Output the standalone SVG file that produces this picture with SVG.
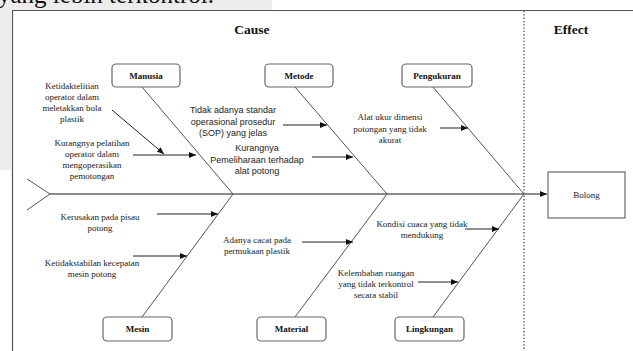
<svg xmlns="http://www.w3.org/2000/svg" width="633" height="351" viewBox="0 0 633 351">
<defs>
<marker id="ah" markerUnits="userSpaceOnUse" markerWidth="7" markerHeight="6" refX="7" refY="3" orient="auto">
<path d="M0,0 L7,3 L0,6 z" fill="#111"/>
</marker>
<style>
.serif{font-family:"Liberation Serif","Times New Roman",serif;font-size:9px;fill:#222;text-anchor:middle}
.sans{font-family:"Liberation Sans",Arial,sans-serif;font-size:9px;fill:#222;text-anchor:middle}
.lbl{font-family:"Liberation Serif","Times New Roman",serif;font-size:9px;font-weight:bold;fill:#111;text-anchor:middle}
.hdr{font-family:"Liberation Serif","Times New Roman",serif;font-size:13.5px;font-weight:bold;fill:#111;text-anchor:middle}
.box{fill:#fff;stroke:#666;stroke-width:1.2}
.bone{stroke:#555;stroke-width:1;fill:none}
.arr{stroke:#222;stroke-width:1;fill:none;marker-end:url(#ah)}
</style>
</defs>
<rect width="633" height="351" fill="#fff"/>
<rect x="0" y="0" width="272" height="10" fill="#ececec"/>
<rect x="0" y="0" width="11" height="170" fill="#ececec"/>
<text x="-2" y="3" font-family="'Liberation Serif','Times New Roman',serif" font-size="25" fill="#111">yang lebih terkontrol.</text>
<g id="frame">
<path d="M12.5,351 V10.5 H633" fill="none" stroke="#555" stroke-width="1.2"/>
<line x1="524" y1="11" x2="524" y2="351" stroke="#444" stroke-width="1.3" stroke-dasharray="1.3,2"/>
<text class="hdr" x="252" y="34">Cause</text>
<text class="hdr" x="571" y="34">Effect</text>
</g>
<g id="connectors">
<line x1="50" y1="194" x2="547" y2="194" stroke="#666" stroke-width="1.5" marker-end="url(#ah)"/>
<path class="bone" d="M27,179 L50,194 L27,210"/>
<line class="bone" x1="142" y1="87" x2="233" y2="194"/>
<line class="bone" x1="295" y1="87" x2="387" y2="194"/>
<line class="bone" x1="433" y1="87" x2="524" y2="194"/>
<line class="bone" x1="142" y1="317" x2="233" y2="194"/>
<line class="bone" x1="295" y1="317" x2="387" y2="194"/>
<line class="bone" x1="433" y1="317" x2="524" y2="194"/>
<line class="arr" x1="112" y1="110" x2="164" y2="154"/>
<line class="arr" x1="133" y1="155" x2="196" y2="155"/>
<line class="arr" x1="283" y1="125" x2="327" y2="125"/>
<line class="arr" x1="312" y1="157" x2="353" y2="157"/>
<line class="arr" x1="440" y1="128" x2="468" y2="128"/>
<line class="arr" x1="157" y1="214" x2="218" y2="214"/>
<line class="arr" x1="133" y1="256" x2="187" y2="256"/>
<line class="arr" x1="302" y1="242" x2="353" y2="242"/>
<line class="arr" x1="465" y1="229" x2="499" y2="229"/>
<line class="arr" x1="418" y1="282" x2="458" y2="282"/>
</g>
<g id="manusia"><rect class="box" x="112" y="64" width="68" height="23" rx="4"/><text class="lbl" x="146" y="79">Manusia</text></g>
<g id="metode"><rect class="box" x="265" y="64" width="68" height="23" rx="4"/><text class="lbl" x="299" y="79">Metode</text></g>
<g id="pengukuran"><rect class="box" x="402" y="64" width="70" height="23" rx="4"/><text class="lbl" x="437" y="79">Pengukuran</text></g>
<g id="mesin"><rect class="box" x="103" y="317" width="69" height="24" rx="4"/><text class="lbl" x="137.5" y="332">Mesin</text></g>
<g id="material"><rect class="box" x="257" y="317" width="69" height="24" rx="4"/><text class="lbl" x="291.5" y="332">Material</text></g>
<g id="lingkungan"><rect class="box" x="395" y="317" width="69" height="24" rx="4"/><text class="lbl" x="429.5" y="332">Lingkungan</text></g>
<g id="bolong"><rect x="548" y="172" width="77" height="46" fill="#fff" stroke="#777" stroke-width="1.3"/><text class="serif" x="586.5" y="198">Bolong</text></g>
<g id="cause-texts">
<text class="serif" x="72" y="89">Ketidaktelitian</text>
<text class="serif" x="72" y="100">operator dalam</text>
<text class="serif" x="72" y="111">meletakkan bola</text>
<text class="serif" x="72" y="122">plastik</text>
<text class="serif" x="92" y="146">Kurangnya pelatihan</text>
<text class="serif" x="92" y="157">operator dalam</text>
<text class="serif" x="92" y="168">mengoperasikan</text>
<text class="serif" x="92" y="179">pemotongan</text>
<text class="sans" x="233" y="113">Tidak adanya standar</text>
<text class="sans" x="233" y="124.5">operasional prosedur</text>
<text class="sans" x="233" y="136">(SOP) yang jelas</text>
<text class="sans" x="257" y="151">Kurangnya</text>
<text class="sans" x="257" y="162.5">Pemeliharaan terhadap</text>
<text class="sans" x="257" y="174">alat potong</text>
<text class="serif" x="390" y="120">Alat ukur dimensi</text>
<text class="serif" x="390" y="131.5">potongan yang tidak</text>
<text class="serif" x="390" y="143">akurat</text>
<text class="serif" x="100" y="220">Kerusakan pada pisau</text>
<text class="serif" x="100" y="231">potong</text>
<text class="serif" x="92" y="266">Ketidakstabilan kecepatan</text>
<text class="serif" x="92" y="277">mesin potong</text>
<text class="serif" x="257" y="243">Adanya cacat pada</text>
<text class="serif" x="257" y="254">permukaan plastik</text>
<text class="serif" x="422" y="227">Kondisi cuaca yang tidak</text>
<text class="serif" x="422" y="238">mendukung</text>
<text class="serif" x="376" y="276">Kelembaban ruangan</text>
<text class="serif" x="376" y="287">yang tidak terkontrol</text>
<text class="serif" x="376" y="297.5">secara stabil</text>
</g>
</svg>
